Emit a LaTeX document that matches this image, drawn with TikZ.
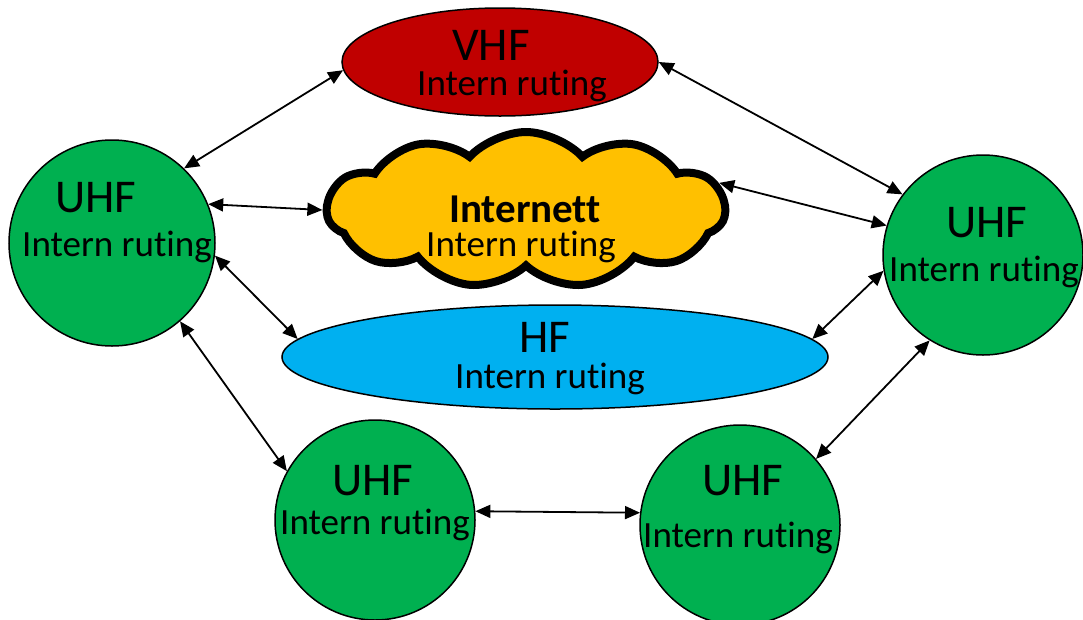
\documentclass[tikz,border=0pt]{standalone}
\usepackage{fontspec}
\setmainfont[RawFeature=-liga]{Carlito}
\usetikzlibrary{shapes.geometric, shapes.symbols, arrows.meta, positioning}
\definecolor{vhfred}{HTML}{C00000}
\definecolor{netgold}{HTML}{FFC000}
\definecolor{hfblue}{HTML}{00B0F0}
\definecolor{uhfgreen}{HTML}{00B050}

\begin{document}
\begin{tikzpicture}[x=1pt, y=-1pt,
    radio/.style={draw, line width=1.5pt, inner sep=0pt},
    uhf/.style={radio, circle, fill=uhfgreen, minimum size=200pt},
    title/.style={inner sep=0pt, anchor=base, text depth=0pt, font=\fontsize{47}{47}\selectfont},
    sub/.style={inner sep=0pt, anchor=base, font=\fontsize{37}{37}\selectfont},
    link/.style={line width=1.8pt, {Triangle[length=15pt, width=13pt]}-{Triangle[length=15pt, width=13pt]}}]
    \useasboundingbox (0,0) rectangle (1083,619);

    \node[radio, ellipse, fill=vhfred, minimum width=316pt, minimum height=108pt] (vhf) at (500,62) {};
    \node[draw, cloud, cloud puffs=11, cloud puff arc=95, aspect=2.5, line width=8pt, fill=netgold,
          minimum width=398pt, minimum height=156pt, inner sep=0pt] (net) at (526,210) {};
    \node[radio, ellipse, fill=hfblue, minimum width=546pt, minimum height=104pt] (hf) at (555,357) {};
    \node[uhf, minimum size=206pt] (uhfl) at (112,243) {};
    \node[uhf] (uhfr) at (983,255) {};
    \node[uhf] (uhfbl) at (375,520) {};
    \node[uhf] (uhfbr) at (740,525) {};

    % labels
    \node[title] (vhf-name) at (491,60) {VHF};
    \node[sub] (vhf-sub) at (512,95) {Intern ruting};
    \node[title, font=\fontsize{41}{41}\selectfont\bfseries] (net-name) at (525,222) {Internett};
    \node[sub] (net-sub) at (521,256) {Intern ruting};
    \node[title] (hf-name) at (545,352) {HF};
    \node[sub] (hf-sub) at (550,388) {Intern ruting};
    \node[title] (uhfl-name) at (96,212) {UHF};
    \node[sub] (uhfl-sub) at (117,256) {Intern ruting};
    \node[title] (uhfr-name) at (987,237) {UHF};
    \node[sub] (uhfr-sub) at (984,281) {Intern ruting};
    \node[title] (uhfbl-name) at (373,495) {UHF};
    \node[sub] (uhfbl-sub) at (375,534) {Intern ruting};
    \node[title] (uhfbr-name) at (743,495) {UHF};
    \node[sub] (uhfbr-sub) at (738,547) {Intern ruting};

    \draw[link] (uhfl.46) -- (vhf.183);
    \draw[link] (uhfl.22) -- (net.180);
    \draw[link] (uhfl.353) -- (hf.176.5);
    \draw[link] (uhfl.311) -- (uhfbl.151);
    \draw[link] (vhf.0) -- (uhfr.143);
    \draw[link] (net.8) -- (uhfr.163);
    \draw[link] (hf.4) -- (uhfr.189);
    \draw[link] (uhfr.238) -- (uhfbr.41);
    \draw[link] (uhfbl.5) -- (uhfbr.173);
\end{tikzpicture}
\end{document}
